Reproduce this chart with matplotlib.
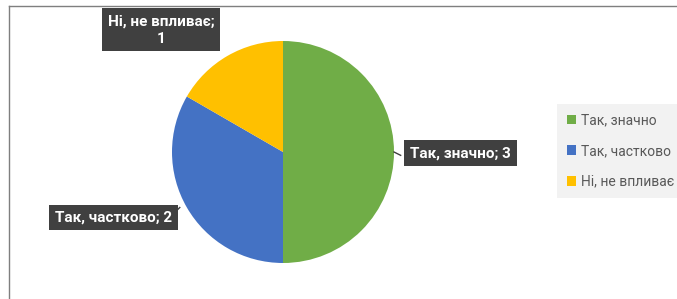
import matplotlib.pyplot as plt
from matplotlib.patches import Patch
from matplotlib.lines import Line2D

categories = ["Так, значно", "Так, частково", "Ні, не впливає"]
values = [3, 2, 1]
colors = ["#70AD47", "#4472C4", "#FFC000"]

W, H = 677, 299
fig = plt.figure(figsize=(W / 100, H / 100), dpi=100)
fig.patch.set_facecolor("white")

# outer chart frame (only top and left edges visible)
fig.add_artist(Line2D([9 / W, 1], [1 - 6 / H, 1 - 6 / H], color="#7f7f7f", lw=1))
fig.add_artist(Line2D([9 / W, 9 / W], [0, 1 - 6 / H], color="#7f7f7f", lw=1))

cx, cy, r = 283, 152, 111
ax = fig.add_axes([(cx - r) / W, (H - cy - r) / H, 2 * r / W, 2 * r / H])
ax.pie(values, colors=colors, startangle=90, counterclock=False,
       wedgeprops=dict(linewidth=0))
ax.set_xlim(-1, 1)
ax.set_ylim(-1, 1)
ax.set_aspect("equal")
ax.axis("off")

font = ["Roboto", "DejaVu Sans"]
box = dict(boxstyle="square,pad=0.38", facecolor="#404040", edgecolor="none")
label_pos = [(1.60, -0.01), (-1.53, -0.59), (-1.10, 1.10)]
label_txt = [f"{categories[0]}; {values[0]}",
             f"{categories[1]}; {values[1]}",
             f"{categories[2]};\n{values[2]}"]
for (x, y), t in zip(label_pos, label_txt):
    ax.text(x, y, t, ha="center", va="center", color="white", fontsize=11,
            fontweight="bold", family=font, bbox=box, clip_on=False,
            linespacing=1.3)

# short leader ticks from the boxes to the slices
ax.plot([1.0, 1.06], [0.0, -0.03], color="#404040", lw=1, clip_on=False)
ax.plot([-0.99, -0.93], [-0.56, -0.50], color="#404040", lw=1, clip_on=False)

handles = [Patch(facecolor=c, edgecolor="none") for c in colors]
leg = fig.legend(handles, categories, loc="center left",
                 bbox_to_anchor=(557 / W, 1 - 151 / H),
                 frameon=True, facecolor="#f2f2f2", edgecolor="none",
                 fancybox=False, framealpha=1, fontsize=10,
                 handlelength=0.7, handleheight=0.7, handletextpad=0.35,
                 labelspacing=1.2, borderpad=0.7, borderaxespad=0)
for t in leg.get_texts():
    t.set_color("#595959")
    t.set_family(["Roboto", "DejaVu Sans"])

fig.savefig("out.png", dpi=100)
